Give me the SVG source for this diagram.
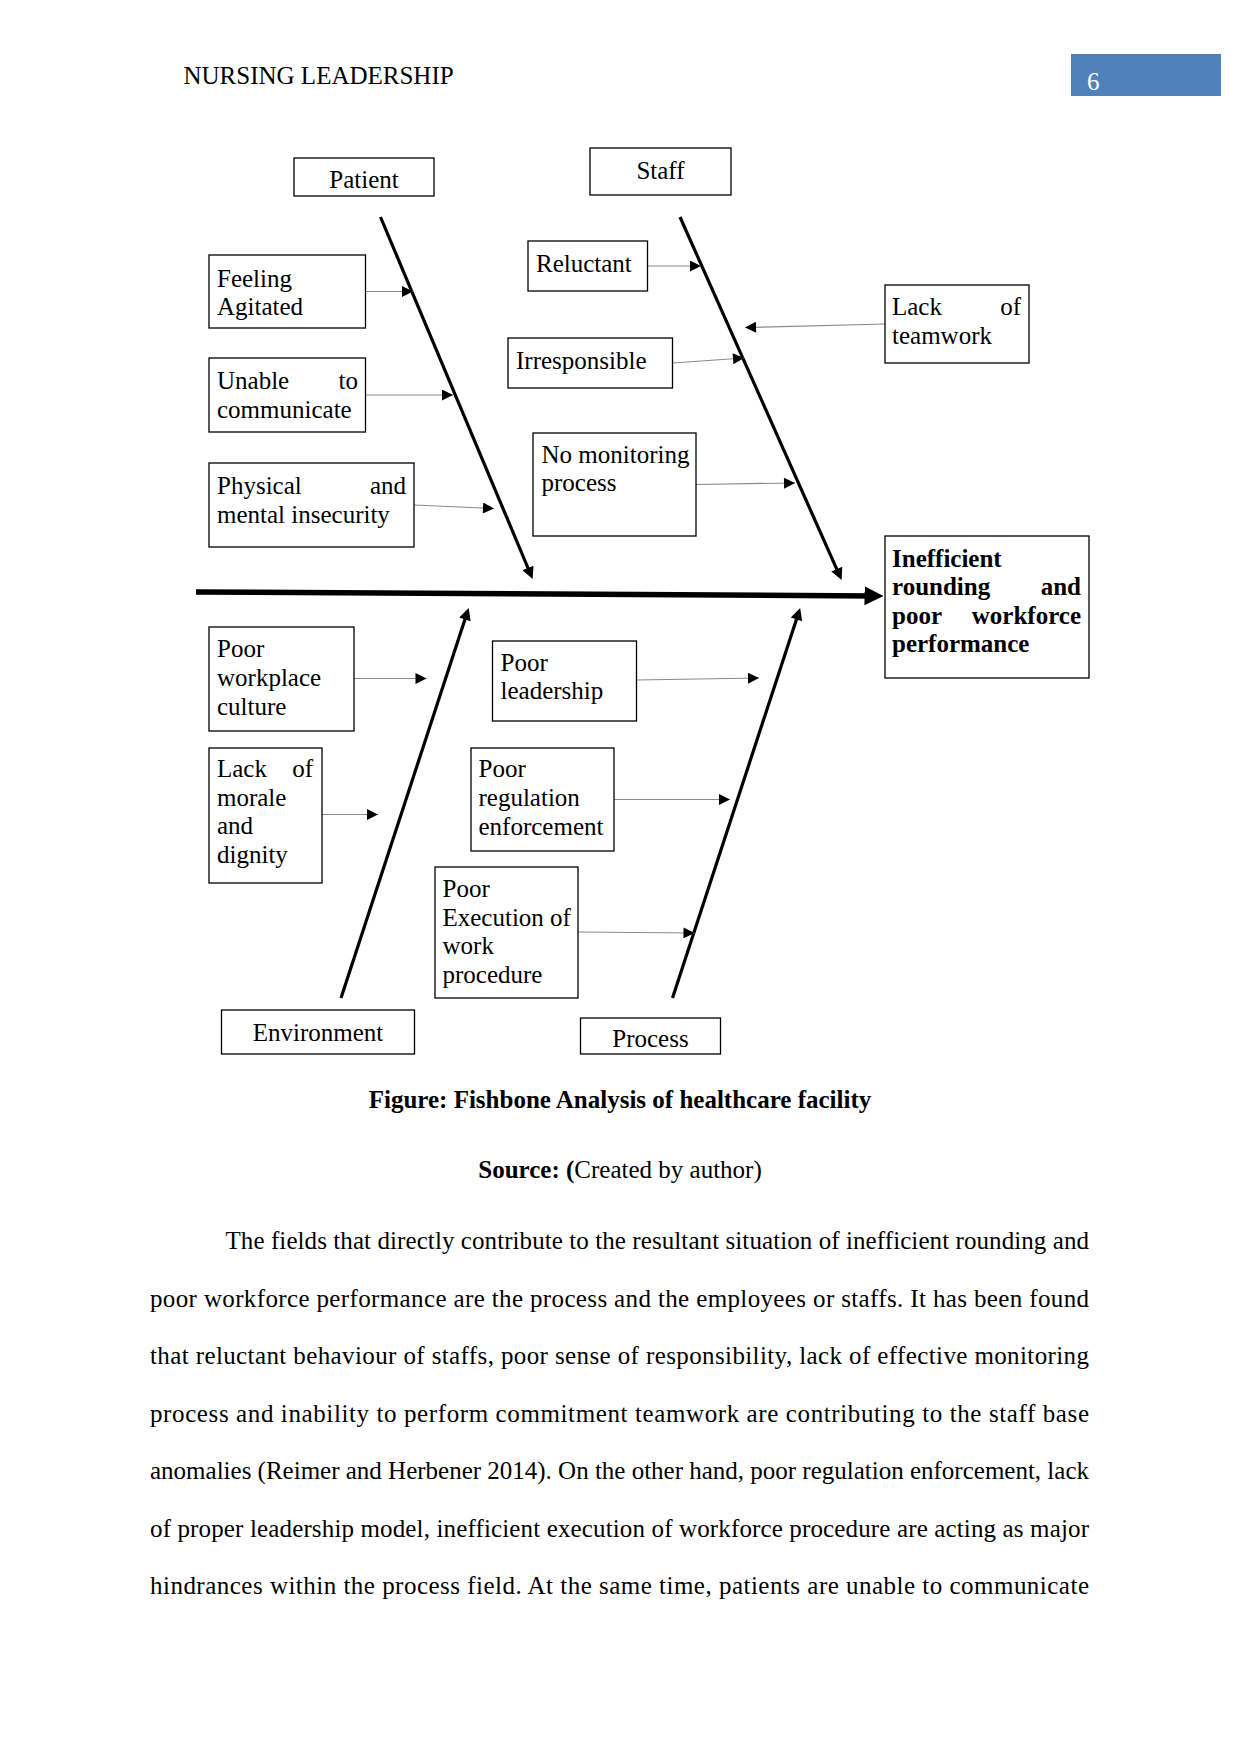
<svg xmlns="http://www.w3.org/2000/svg" width="1241" height="1754" viewBox="0 0 1241 1754">
<style>
text{font-family:"Liberation Serif","Times New Roman",serif;font-size:25px;fill:#000}
.b{font-weight:bold}
.c{text-anchor:middle}
.e{text-anchor:end}
.box{fill:#fff;stroke:#000;stroke-width:1.3}
.thin{stroke:#8a8a8a;stroke-width:1.2;fill:none;marker-end:url(#sa)}
.bone{stroke:#000;stroke-width:3.2;fill:none;marker-end:url(#ba)}
</style>
<defs>
<marker id="sa" viewBox="0 0 10 10" refX="10" refY="5" markerUnits="userSpaceOnUse" markerWidth="12" markerHeight="11" orient="auto"><path d="M0,0L10,5L0,10z" fill="#000"/></marker>
<marker id="ba" viewBox="0 0 10 10" refX="5" refY="5" markerUnits="userSpaceOnUse" markerWidth="14" markerHeight="12" orient="auto"><path d="M0,0L10,5L0,10z" fill="#000"/></marker>
<marker id="ma" viewBox="0 0 10 10" refX="5" refY="5" markerUnits="userSpaceOnUse" markerWidth="19" markerHeight="20" orient="auto"><path d="M0,0L10,5L0,10z" fill="#000"/></marker>
</defs>
<rect width="1241" height="1754" fill="#fff"/>
<g id="header">
<text x="183.5" y="84">NURSING LEADERSHIP</text>
<rect x="1071" y="54" width="150" height="42" fill="#4f81bd"/>
<text x="1087" y="90" style="fill:#fff">6</text>
</g>
<g id="connectors">
<line x1="196" y1="592" x2="874" y2="595.9" stroke="#000" stroke-width="5.5" marker-end="url(#ma)"/>
<line class="bone" x1="380.5" y1="217" x2="530.3" y2="573.5"/>
<line class="bone" x1="680" y1="217" x2="839.2" y2="574.6"/>
<line class="bone" x1="341" y1="998" x2="466.8" y2="613.7"/>
<line class="bone" x1="672.5" y1="998" x2="798.3" y2="613.7"/>
<line class="thin" x1="365.5" y1="291.5" x2="413" y2="291.5"/>
<line class="thin" x1="365.5" y1="395" x2="453" y2="395"/>
<line class="thin" x1="414" y1="505" x2="494" y2="508.5"/>
<line class="thin" x1="647.5" y1="266" x2="701" y2="266"/>
<line class="thin" x1="672.5" y1="363" x2="744" y2="358"/>
<line class="thin" x1="885" y1="324" x2="745" y2="327.5"/>
<line class="thin" x1="696" y1="484.5" x2="795" y2="483"/>
<line class="thin" x1="354" y1="678.5" x2="426.5" y2="678.5"/>
<line class="thin" x1="322" y1="814.5" x2="378" y2="814.5"/>
<line class="thin" x1="636.5" y1="680" x2="759" y2="678"/>
<line class="thin" x1="614" y1="799.5" x2="730" y2="799.5"/>
<line class="thin" x1="578" y1="932" x2="694.5" y2="933"/>
</g>
<g id="patient"><rect class="box" x="294" y="158" width="140" height="38"/><text class="c" x="364" y="188">Patient</text></g>
<g id="staff"><rect class="box" x="590" y="148" width="141" height="47"/><text class="c" x="660.5" y="179">Staff</text></g>
<g id="feeling-agitated"><rect class="box" x="209" y="255" width="156.5" height="73"/><text x="217" y="287">Feeling</text><text x="217" y="315">Agitated</text></g>
<g id="unable-to-communicate"><rect class="box" x="209" y="358" width="156.5" height="74"/><text x="217" y="389">Unable</text><text class="e" x="358" y="389">to</text><text x="217" y="418">communicate</text></g>
<g id="physical-mental"><rect class="box" x="209" y="463" width="205" height="84"/><text x="217" y="494">Physical</text><text class="e" x="406" y="494">and</text><text x="217" y="523">mental insecurity</text></g>
<g id="reluctant"><rect class="box" x="528" y="241" width="119.5" height="50"/><text x="536" y="272">Reluctant</text></g>
<g id="irresponsible"><rect class="box" x="508" y="338" width="164.5" height="50"/><text x="516" y="369">Irresponsible</text></g>
<g id="no-monitoring"><rect class="box" x="533" y="433" width="163" height="103"/><text x="541.5" y="463">No monitoring</text><text x="541.5" y="491">process</text></g>
<g id="lack-teamwork"><rect class="box" x="885" y="285" width="144" height="78"/><text x="892" y="315">Lack</text><text class="e" x="1021" y="315">of</text><text x="892" y="343.5">teamwork</text></g>
<g id="effect"><rect class="box" x="885" y="536" width="204" height="142"/>
<text class="b" x="892" y="567">Inefficient</text>
<text class="b" x="892" y="595">rounding</text><text class="b e" x="1081" y="595">and</text>
<text class="b" x="892" y="624">poor</text><text class="b e" x="1081" y="624">workforce</text>
<text class="b" x="892" y="652">performance</text></g>
<g id="poor-workplace"><rect class="box" x="209" y="627" width="145" height="104"/><text x="217" y="657">Poor</text><text x="217" y="686">workplace</text><text x="217" y="715">culture</text></g>
<g id="lack-morale"><rect class="box" x="209" y="748" width="113" height="135"/><text x="217" y="777">Lack</text><text class="e" x="313" y="777">of</text><text x="217" y="806">morale</text><text x="217" y="834">and</text><text x="217" y="863">dignity</text></g>
<g id="poor-leadership"><rect class="box" x="492.5" y="641" width="144" height="80"/><text x="500.5" y="671">Poor</text><text x="500.5" y="699">leadership</text></g>
<g id="poor-regulation"><rect class="box" x="471" y="748" width="143" height="103"/><text x="478.5" y="777">Poor</text><text x="478.5" y="806">regulation</text><text x="478.5" y="835">enforcement</text></g>
<g id="poor-execution"><rect class="box" x="435" y="867" width="143" height="131"/><text x="442.5" y="897">Poor</text><text x="442.5" y="926">Execution of</text><text x="442.5" y="954">work</text><text x="442.5" y="983">procedure</text></g>
<g id="environment"><rect class="box" x="221.5" y="1010" width="193" height="44"/><text class="c" x="318" y="1041">Environment</text></g>
<g id="process"><rect class="box" x="580.5" y="1018" width="140" height="36"/><text class="c" x="650.5" y="1047">Process</text></g>
<g id="caption">
<text class="b c" x="620" y="1108">Figure: Fishbone Analysis of healthcare facility</text>
<text class="c" x="620" y="1178"><tspan class="b">Source: (</tspan>Created by author)</text>
</g>
<g id="body">
<text x="225.5" y="1249" textLength="863.5" lengthAdjust="spacing">The fields that directly contribute to the resultant situation of inefficient rounding and</text>
<text x="150" y="1306.5" textLength="939" lengthAdjust="spacing">poor workforce performance are the process and the employees or staffs. It has been found</text>
<text x="150" y="1364" textLength="939" lengthAdjust="spacing">that reluctant behaviour of staffs, poor sense of responsibility, lack of effective monitoring</text>
<text x="150" y="1421.5" textLength="939" lengthAdjust="spacing">process and inability to perform commitment teamwork are contributing to the staff base</text>
<text x="150" y="1479" textLength="939" lengthAdjust="spacing">anomalies (Reimer and Herbener 2014). On the other hand, poor regulation enforcement, lack</text>
<text x="150" y="1536.5" textLength="939" lengthAdjust="spacing">of proper leadership model, inefficient execution of workforce procedure are acting as major</text>
<text x="150" y="1594" textLength="939" lengthAdjust="spacing">hindrances within the process field. At the same time, patients are unable to communicate</text>
</g>
</svg>
